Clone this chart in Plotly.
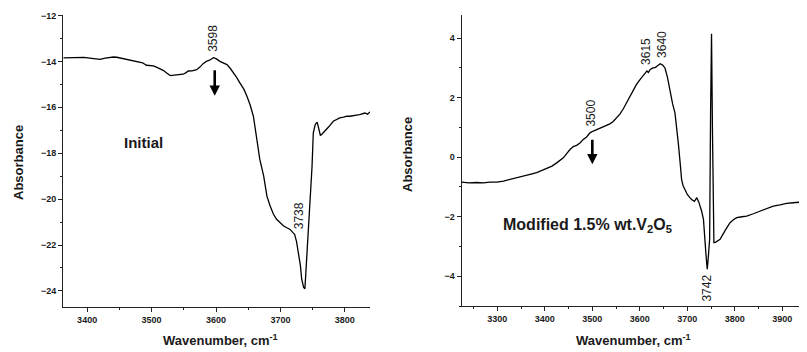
import plotly.graph_objects as go

# ---- Data: left panel (Initial) ----
wn_initial = [3363, 3372, 3384, 3395, 3404, 3410, 3416, 3420, 3428, 3435, 3441, 3446, 3451,
              3458, 3465, 3472, 3480, 3486, 3492, 3498, 3503, 3510, 3518, 3524, 3529, 3535,
              3542, 3549, 3553, 3557, 3563, 3570, 3575, 3580, 3585, 3590, 3596, 3600, 3606,
              3611, 3617, 3622, 3627, 3632, 3637, 3643, 3648, 3653, 3658, 3663, 3668, 3674,
              3679, 3684, 3689, 3694, 3700, 3705, 3710, 3715, 3719, 3722, 3725, 3728, 3731,
              3733, 3736, 3738, 3740, 3743, 3746, 3749, 3751, 3754, 3757, 3760, 3762, 3765,
              3769, 3775, 3782, 3787, 3792, 3798, 3803, 3808, 3813, 3818, 3823, 3827, 3831,
              3835, 3839]
abs_initial = [-13.85, -13.84, -13.81, -13.83, -13.86, -13.87, -13.88, -13.91, -13.86, -13.83, -13.81, -13.82, -13.85,
               -13.9, -13.93, -13.97, -14.0, -14.06, -14.17, -14.19, -14.2, -14.28, -14.39, -14.52, -14.62, -14.6,
               -14.59, -14.56, -14.5, -14.42, -14.41, -14.36, -14.25, -14.1, -14.0, -13.95, -13.84, -13.88, -14.0,
               -14.05, -14.14, -14.3, -14.48, -14.7, -14.94, -15.2, -15.52, -15.9, -16.39, -17.4, -18.27, -19.0,
               -19.87, -20.3, -20.65, -20.88, -21.05, -21.17, -21.25, -21.32, -21.45, -21.53, -21.85, -22.33, -22.9,
               -23.49, -23.85, -23.9, -22.9, -21.6, -20.3, -18.6, -17.11, -16.75, -16.65, -17.0, -17.23, -17.15,
               -17.04, -16.85, -16.61, -16.52, -16.46, -16.43, -16.39, -16.39, -16.35, -16.34, -16.32, -16.29, -16.25,
               -16.3, -16.2]

# ---- Data: right panel (Modified 1.5% wt. V2O5) ----
wn_mod = [3225, 3240, 3257, 3270, 3285, 3299, 3313, 3327, 3341, 3355, 3369, 3383, 3394, 3404,
          3415, 3425, 3432, 3439, 3446, 3453, 3460, 3467, 3474, 3481, 3488, 3495, 3502, 3509,
          3516, 3523, 3530, 3537, 3544, 3551, 3558, 3565, 3572, 3579, 3586, 3593, 3600, 3607,
          3612, 3615, 3618, 3622, 3628, 3633, 3638, 3643, 3648, 3653, 3658, 3664, 3669, 3674,
          3678, 3681, 3685, 3688, 3691, 3695, 3700, 3705, 3709, 3715, 3720, 3724, 3727, 3730,
          3734, 3737, 3739, 3741, 3742, 3744, 3747, 3749, 3751, 3753, 3756, 3760, 3769, 3780,
          3790, 3797, 3804, 3815, 3825, 3839, 3853, 3867, 3881, 3895, 3909, 3923, 3937, 3945,
          3952]
abs_mod = [-0.84, -0.86, -0.85, -0.86, -0.84, -0.84, -0.8, -0.75, -0.7, -0.64, -0.58, -0.52, -0.45, -0.39,
           -0.3, -0.19, -0.1, -0.02, 0.12, 0.26, 0.36, 0.4, 0.48, 0.6, 0.68, 0.82, 0.88, 0.93,
           0.98, 1.02, 1.06, 1.12, 1.2, 1.32, 1.45, 1.62, 1.82, 2.05, 2.27, 2.45, 2.6, 2.74,
           2.8, 2.9, 2.85, 2.95, 3.0, 3.02, 3.08, 3.14, 3.1, 3.0, 2.7, 2.16, 1.8, 1.49,
           1.0, 0.48, -0.2, -0.75, -0.95, -1.08, -1.25, -1.35, -1.42, -1.48, -1.36, -1.5, -1.64, -1.8,
           -2.09, -2.6, -3.2, -3.6, -3.76, -3.4, -2.76, 1.5, 4.15, 0.83, -2.87, -2.85, -2.76, -2.45,
           -2.2, -2.1, -2.03, -2.0, -1.98, -1.9, -1.81, -1.72, -1.64, -1.6, -1.55, -1.53, -1.51, -1.55,
           -1.58]

xticks_left = [3400, 3500, 3600, 3700, 3800]
yticks_left = [-24, -22, -20, -18, -16, -14, -12]
xticks_right = [3300, 3400, 3500, 3600, 3700, 3800, 3900]
yticks_right = [-4, -2, 0, 2, 4]

FONT = "Liberation Sans, Arial, sans-serif"
INK = "#1a1a1a"

# page body has an 8px margin; map screen pixels into paper coordinates
OFF = 8.0
W = 807.0 - OFF
H = 352.0 - OFF

def px(X):
    return (X - OFF) / W

def py(Y):
    return (H - (Y - OFF)) / H

fig = go.Figure()
fig.add_trace(go.Scatter(x=wn_initial, y=abs_initial, mode="lines",
                         line=dict(color="black", width=1.3), xaxis="x", yaxis="y",
                         showlegend=False, hoverinfo="skip"))
fig.add_trace(go.Scatter(x=wn_mod, y=abs_mod, mode="lines",
                         line=dict(color="black", width=1.3), xaxis="x2", yaxis="y2",
                         showlegend=False, hoverinfo="skip"))

def minor(dtick, tick0):
    return dict(ticks="outside", ticklen=2, tickwidth=1, tickcolor="#222",
                dtick=dtick, tick0=tick0, showgrid=False)

def axis_common(**kw):
    d = dict(showline=True, linecolor="#222", linewidth=1.3, mirror=False,
             ticks="outside", ticklen=4, tickwidth=1, tickcolor="#222",
             showgrid=False, zeroline=False, automargin=False,
             tickfont=dict(family=FONT, size=9, color=INK, weight="bold"))
    d.update(kw)
    return d

fig.update_layout(
    width=int(W), height=int(H),
    margin=dict(l=0, r=0, t=0, b=0, autoexpand=False),
    paper_bgcolor="white", plot_bgcolor="white",
    xaxis=axis_common(domain=[px(63.3), px(370)], range=[3363, 3839],
                      tickvals=xticks_left, anchor="y", minor=minor(50, 3350)),
    yaxis=axis_common(domain=[py(307), py(15)], range=[-24.7, -11.98],
                      tickvals=yticks_left, anchor="x", minor=minor(1, -25)),
    xaxis2=axis_common(domain=[px(461.7), 1.0], range=[3225, 3952],
                       tickvals=xticks_right, anchor="y2", minor=minor(50, 3250)),
    yaxis2=axis_common(domain=[py(306), py(15)], range=[-5.0, 4.78],
                       tickvals=yticks_right, anchor="x2", minor=minor(1, -5)),
)

ann = []
title_font = dict(family=FONT, size=13, color=INK, weight="bold")
# axis titles
for xc in (220, 633):
    ann.append(dict(text="Wavenumber, cm<sup>-1</sup>", xref="paper", yref="paper",
                    x=px(xc), y=py(340), xanchor="center", yanchor="middle",
                    showarrow=False, font=title_font))
ann.append(dict(text="Absorbance", xref="paper", yref="paper", textangle=-90,
                x=px(18), y=py(163), xanchor="center", yanchor="middle",
                showarrow=False, font=title_font))
ann.append(dict(text="Absorbance", xref="paper", yref="paper", textangle=-90,
                x=px(407), y=py(155), xanchor="center", yanchor="middle",
                showarrow=False, font=title_font))
# panel labels
ann.append(dict(text="Initial", xref="x", yref="y", x=3488, y=-17.53, showarrow=False,
                xanchor="center", yanchor="middle",
                font=dict(family=FONT, size=15, color=INK, weight="bold")))
ann.append(dict(text="Modified 1.5% wt.V<sub>2</sub>O<sub>5</sub>", xref="x2", yref="y2",
                x=3489, y=-2.3, showarrow=False, xanchor="center", yanchor="middle",
                font=dict(family=FONT, size=16, color=INK, weight="bold")))
# peak labels
pk_font = dict(family=FONT, size=12, color=INK)
ann.append(dict(text="3598", xref="x", yref="y", x=3596, y=-13.85, textangle=-90,
                showarrow=False, yanchor="bottom", yshift=4, font=pk_font))
ann.append(dict(text="3738", xref="x", yref="y", x=3728, y=-21.4, textangle=-90,
                showarrow=False, yanchor="bottom", yshift=0, font=pk_font))
ann.append(dict(text="3615", xref="x2", yref="y2", x=3614, y=2.9, textangle=-90,
                showarrow=False, yanchor="bottom", yshift=4, font=pk_font))
ann.append(dict(text="3640", xref="x2", yref="y2", x=3648, y=3.14, textangle=-90,
                showarrow=False, yanchor="bottom", yshift=4, font=pk_font))
ann.append(dict(text="3500", xref="x2", yref="y2", x=3497, y=0.84, textangle=-90,
                showarrow=False, yanchor="bottom", yshift=4, font=pk_font))
ann.append(dict(text="3742", xref="x2", yref="y2", x=3741, y=-3.8, textangle=-90,
                showarrow=False, yanchor="top", yshift=-2, font=pk_font))
# arrows
ann.append(dict(x=3598, y=-15.5, xref="x", yref="y", ax=0, ay=-27,
                showarrow=True, arrowhead=2, arrowsize=0.8, arrowwidth=2.6, arrowcolor="black", text=""))
ann.append(dict(x=3500, y=-0.24, xref="x2", yref="y2", ax=0, ay=-26,
                showarrow=True, arrowhead=2, arrowsize=0.8, arrowwidth=2.6, arrowcolor="black", text=""))

fig.update_layout(annotations=ann)
fig.write_html("out.html")
